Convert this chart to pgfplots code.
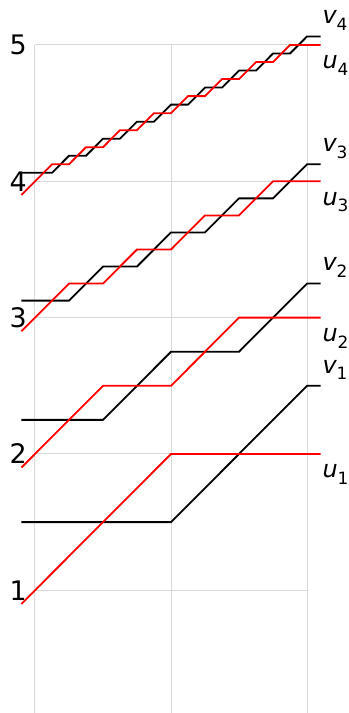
\documentclass[border=0pt]{standalone}
\usepackage{fontspec}
\setmainfont{DejaVu Sans}
\usepackage{pgfplots}
\pgfplotsset{compat=1.18}
\tikzset{
  vlab/.style={anchor=south west, inner sep=1bp, yshift=4bp, text=black},
  ulab/.style={anchor=north west, inner sep=1bp, yshift=-9bp, text=black},
}
\newcommand{\lab}[2]{{\fontsize{24}{24}\selectfont\itshape #1\raisebox{-0.28em}{\upshape\fontsize{17}{17}\selectfont #2}}}
\begin{document}
\begin{tikzpicture}
\begin{axis}[
  scale only axis, width=272bp, height=668bp,
  xmin=0, xmax=2, ymin=0.1, ymax=5,
  axis line style={draw=none},
  xtick={0,1,2}, xticklabels={},
  ytick={1,2,3,4,5},
  major tick length=0pt,
  grid=major,
  grid style={gray!30, line width=1bp},
  clip=false,
  /pgf/number format/assume math mode=true,
  yticklabel style={font=\fontsize{27}{27}\selectfont, inner sep=4bp, xshift=-4bp},
  every axis plot/.append style={line width=1.8bp},
]
\addplot[black] coordinates {(-0.1,1.5) (1,1.5) (2,2.5) (2.1,2.5)} node[vlab] {\lab{v}{1}};
\addplot[red] coordinates {(-0.1,0.9) (1,2) (2.1,2)} node[ulab] {\lab{u}{1}};
\addplot[black] coordinates {(-0.1,2.25) (0.5,2.25) (1,2.75) (1.5,2.75) (2,3.25) (2.1,3.25)} node[vlab] {\lab{v}{2}};
\addplot[red] coordinates {(-0.1,1.9) (0.5,2.5) (1,2.5) (1.5,3) (2.1,3)} node[ulab] {\lab{u}{2}};
\addplot[black] coordinates {(-0.1,3.125) (0.25,3.125) (0.5,3.375) (0.75,3.375) (1,3.625) (1.25,3.625) (1.5,3.875) (1.75,3.875) (2,4.125) (2.1,4.125)} node[vlab] {\lab{v}{3}};
\addplot[red] coordinates {(-0.1,2.9) (0.25,3.25) (0.5,3.25) (0.75,3.5) (1,3.5) (1.25,3.75) (1.5,3.75) (1.75,4) (2.1,4)} node[ulab] {\lab{u}{3}};
\addplot[black] coordinates {(-0.1,4.0625) (0.125,4.0625) (0.25,4.1875) (0.375,4.1875) (0.5,4.3125) (0.625,4.3125) (0.75,4.4375) (0.875,4.4375) (1,4.5625) (1.125,4.5625) (1.25,4.6875) (1.375,4.6875) (1.5,4.8125) (1.625,4.8125) (1.75,4.9375) (1.875,4.9375) (2,5.0625) (2.1,5.0625)} node[vlab] {\lab{v}{4}};
\addplot[red] coordinates {(-0.1,3.9) (0.125,4.125) (0.25,4.125) (0.375,4.25) (0.5,4.25) (0.625,4.375) (0.75,4.375) (0.875,4.5) (1,4.5) (1.125,4.625) (1.25,4.625) (1.375,4.75) (1.5,4.75) (1.625,4.875) (1.75,4.875) (1.875,5) (2.1,5)} node[ulab] {\lab{u}{4}};
\coordinate (ll) at (rel axis cs:0,0);
\coordinate (ur) at (rel axis cs:1,1);
\end{axis}
\pgfresetboundingbox
\path ([xshift=-35bp]ll) rectangle ([xshift=42bp,yshift=45bp]ur);
\end{tikzpicture}
\end{document}
